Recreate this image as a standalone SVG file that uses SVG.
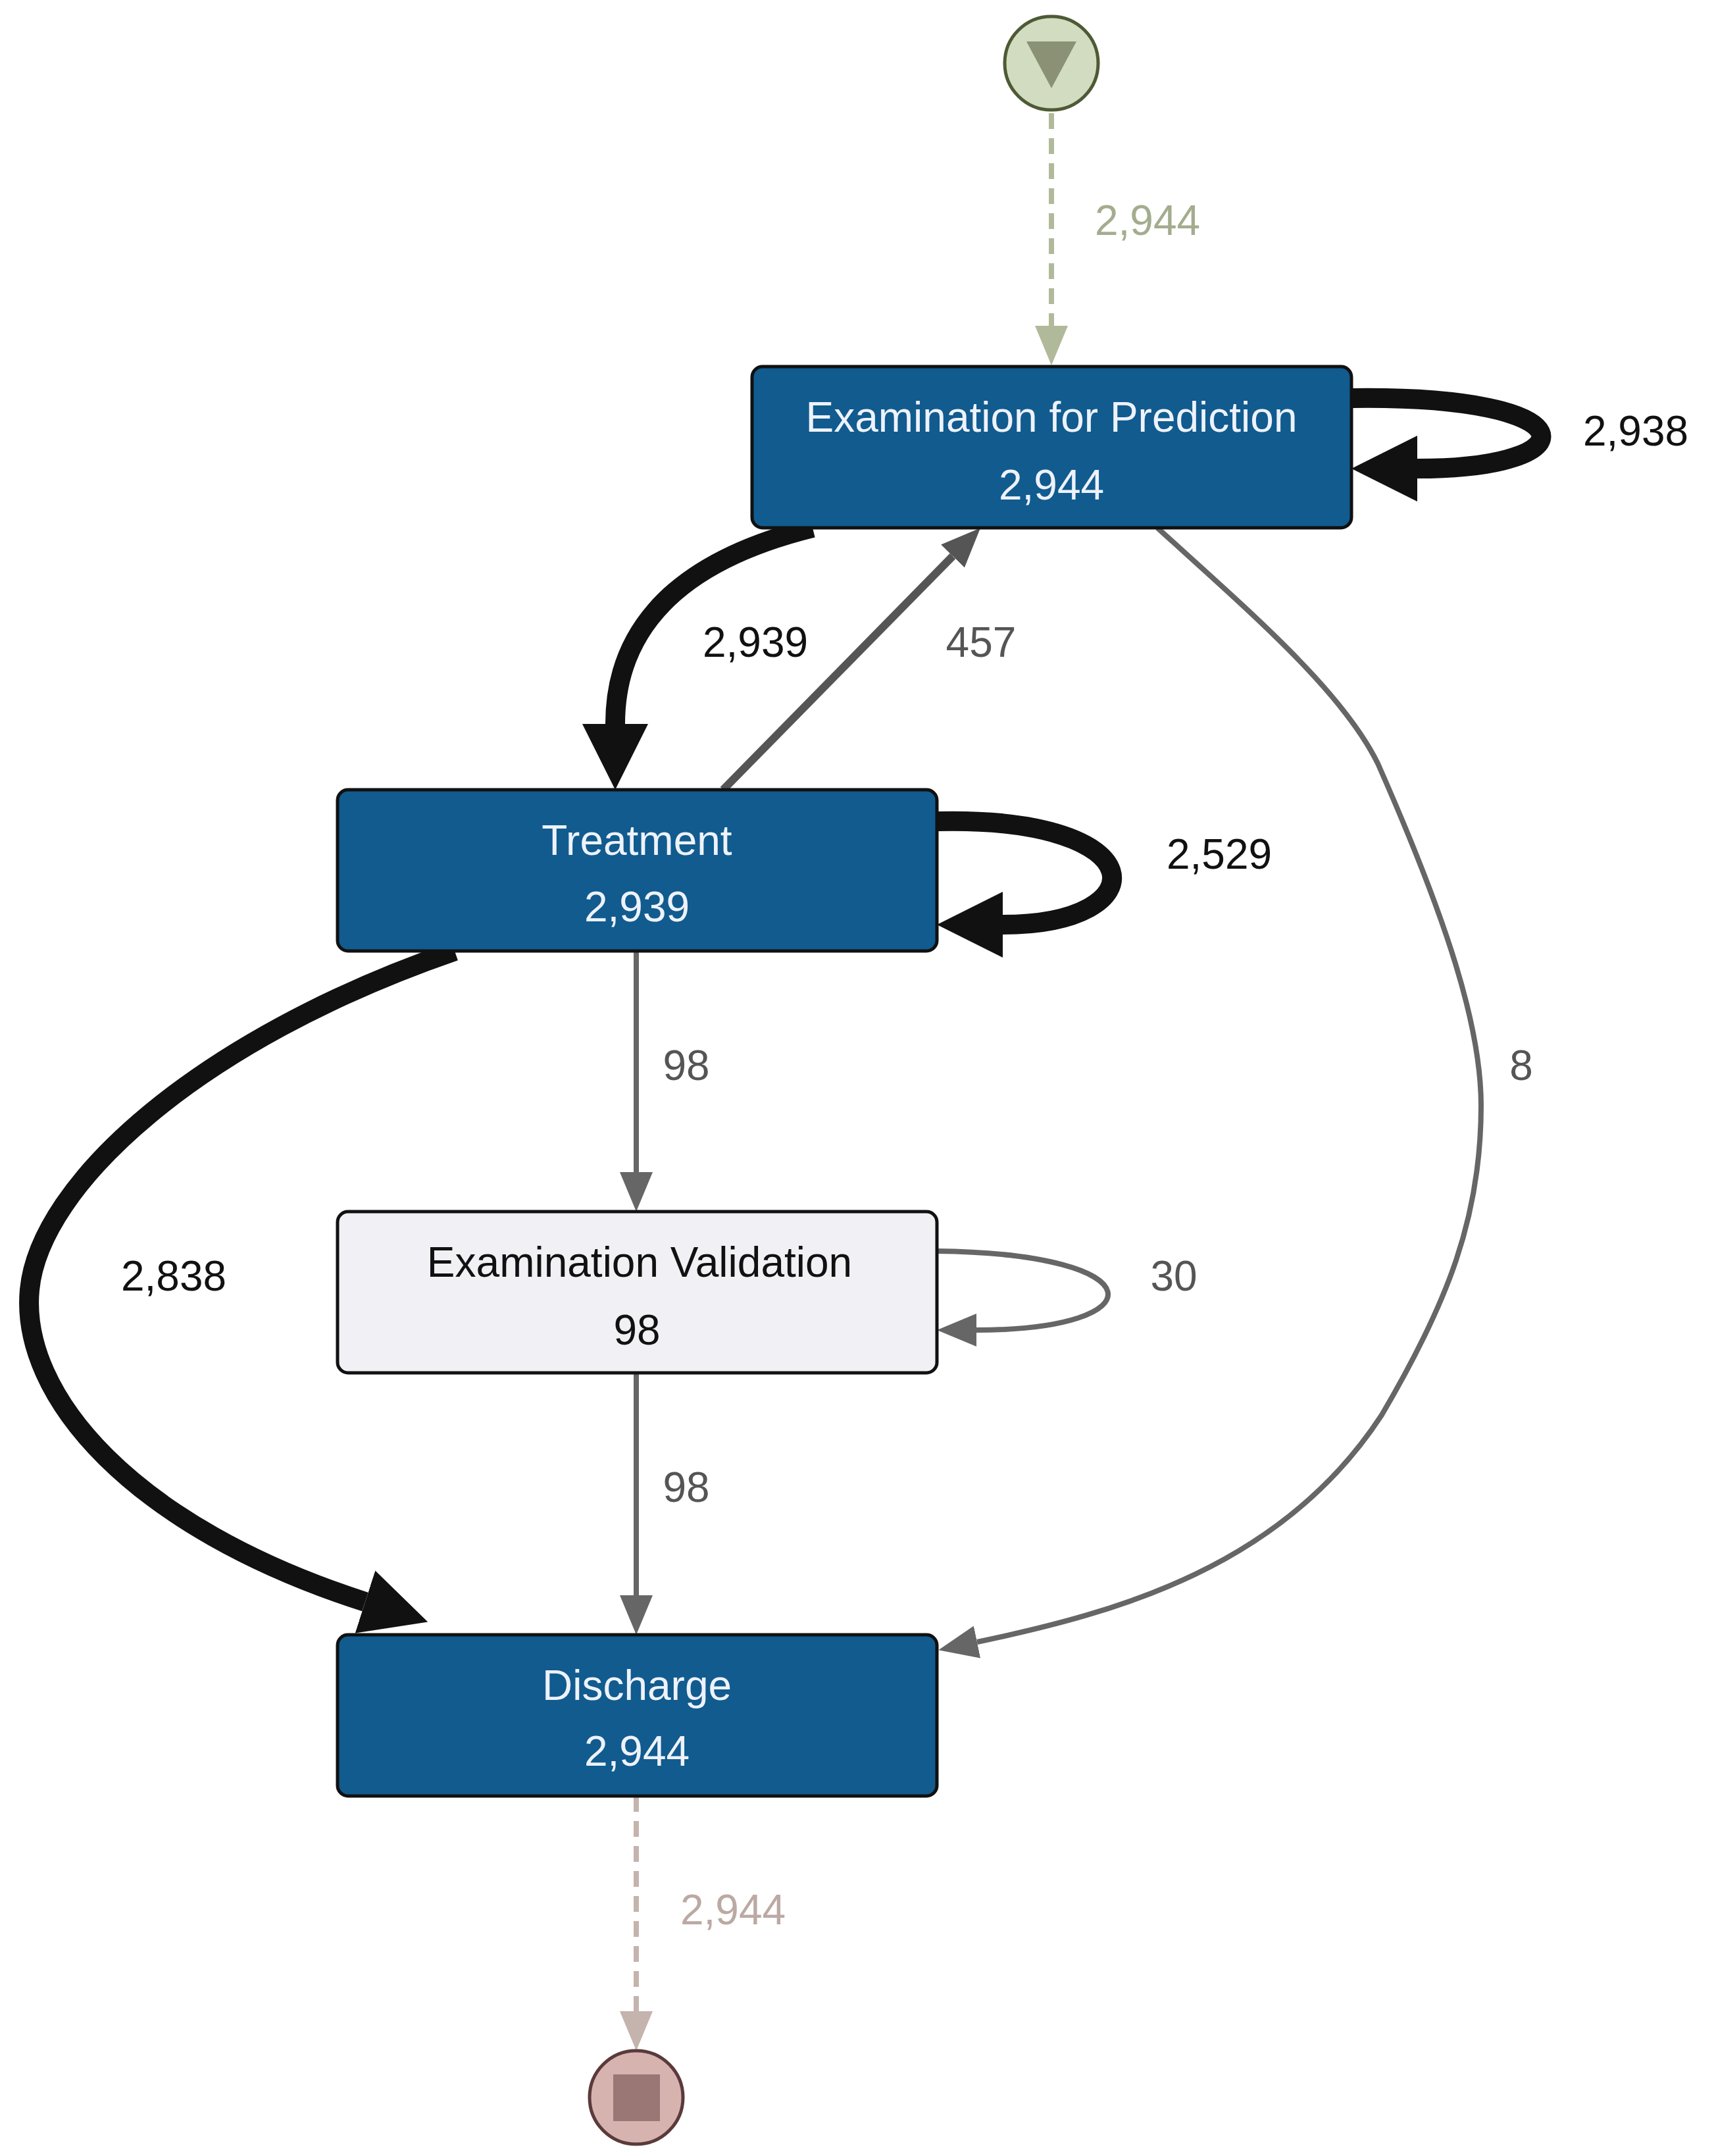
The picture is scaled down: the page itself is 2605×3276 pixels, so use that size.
<svg xmlns="http://www.w3.org/2000/svg" width="2605" height="3276" viewBox="0 0 2605 3276">
<style>
.t{font-family:"Liberation Sans",Arial,sans-serif;font-size:64px;text-anchor:middle}
.n{fill:#115b8f;stroke:#111;stroke-width:5}
.w{fill:#eef2fa}
.thick{fill:none;stroke:#111;stroke-width:30}
.gray{fill:none;stroke:#666;stroke-width:8}
</style>
<defs>
<marker id="mk" markerUnits="userSpaceOnUse" markerWidth="100" markerHeight="100" refX="0" refY="50" orient="auto" viewBox="0 0 100 100"><path d="M0,0 L100,50 L0,100 z" fill="#111"/></marker>
<marker id="mg" markerUnits="userSpaceOnUse" markerWidth="60" markerHeight="50" refX="0" refY="25" orient="auto" viewBox="0 0 60 50"><path d="M0,0 L60,25 L0,50 z" fill="#666"/></marker>
<marker id="mg2" markerUnits="userSpaceOnUse" markerWidth="60" markerHeight="50" refX="0" refY="25" orient="auto" viewBox="0 0 60 50"><path d="M0,0 L60,25 L0,50 z" fill="#555"/></marker>
<marker id="ms" markerUnits="userSpaceOnUse" markerWidth="60" markerHeight="50" refX="0" refY="25" orient="auto" viewBox="0 0 60 50"><path d="M0,0 L60,25 L0,50 z" fill="#b0ba9a"/></marker>
<marker id="me" markerUnits="userSpaceOnUse" markerWidth="60" markerHeight="50" refX="0" refY="25" orient="auto" viewBox="0 0 60 50"><path d="M0,0 L60,25 L0,50 z" fill="#c5b3ad"/></marker>
</defs>
<g id="connectors">
<path d="M1598,172 L1598,495" fill="none" stroke="#b0ba9a" stroke-width="8" stroke-dasharray="24 14" marker-end="url(#ms)"/>
<path class="thick" d="M2054,605 C2420,600 2420,712 2154,712" marker-end="url(#mk)"/>
<path class="thick" d="M1235,802 C1000,860 935,980 935,1100" marker-end="url(#mk)"/>
<path d="M1099,1200 L1448,845" fill="none" stroke="#555" stroke-width="12" marker-end="url(#mg2)"/>
<path class="gray" d="M1759,802 C1900,930 2040,1050 2094,1160 C2200,1400 2251,1560 2251,1680 C2251,1850 2200,1980 2100,2150 C1950,2380 1700,2450 1485,2495" marker-end="url(#mg)"/>
<path class="thick" d="M1424,1248 C1760,1240 1760,1405 1524,1405" marker-end="url(#mk)"/>
<path class="gray" d="M967,1445 L967,1781" marker-end="url(#mg)"/>
<path class="gray" d="M1424,1901 C1760,1905 1760,2021 1484,2021" marker-end="url(#mg)"/>
<path class="gray" d="M967,2086 L967,2424" marker-end="url(#mg)"/>
<path class="thick" d="M691,1445 C300,1580 60,1800 45,1960 C30,2120 200,2320 555,2434" marker-end="url(#mk)"/>
<path d="M967,2729 L967,3056" fill="none" stroke="#c5b3ad" stroke-width="8" stroke-dasharray="24 14" marker-end="url(#me)"/>
<text class="t" x="1744" y="357" fill="#a3ad8e">2,944</text>
<text class="t" x="2486" y="677" fill="#111">2,938</text>
<text class="t" x="1148" y="998" fill="#111">2,939</text>
<text class="t" x="1491" y="998" fill="#555">457</text>
<text class="t" x="1853" y="1320" fill="#111">2,529</text>
<text class="t" x="1043" y="1641" fill="#555">98</text>
<text class="t" x="2312" y="1641" fill="#555">8</text>
<text class="t" x="264" y="1961" fill="#111">2,838</text>
<text class="t" x="1784" y="1961" fill="#555">30</text>
<text class="t" x="1043" y="2282" fill="#555">98</text>
<text class="t" x="1114" y="2924" fill="#bba9a3">2,944</text>
</g>
<g id="start"><circle cx="1598" cy="96" r="71" fill="#d1dcc0" stroke="#4e5a35" stroke-width="5"/><polygon points="1560,63 1636,63 1598,134" fill="#8a9175"/></g>
<g id="efp"><rect class="n" x="1143" y="557" width="911" height="245" rx="16"/><text class="t w" x="1598" y="656">Examination for Prediction</text><text class="t w" x="1598" y="759">2,944</text></g>
<g id="treatment"><rect class="n" x="513" y="1200" width="911" height="245" rx="16"/><text class="t w" x="968" y="1299">Treatment</text><text class="t w" x="968" y="1400">2,939</text></g>
<g id="ev"><rect x="513" y="1841" width="911" height="245" rx="16" fill="#f1f0f4" stroke="#111" stroke-width="5"/><text class="t" x="972" y="1940" fill="#111">Examination Validation</text><text class="t" x="968" y="2043" fill="#111">98</text></g>
<g id="discharge"><rect class="n" x="513" y="2484" width="911" height="245" rx="16"/><text class="t w" x="968" y="2583">Discharge</text><text class="t w" x="968" y="2683">2,944</text></g>
<g id="end"><circle cx="967" cy="3187" r="71" fill="#d7b3b0" stroke="#5a3a3a" stroke-width="5"/><rect x="932" y="3152" width="71" height="71" fill="#9a7675"/></g>
</svg>
